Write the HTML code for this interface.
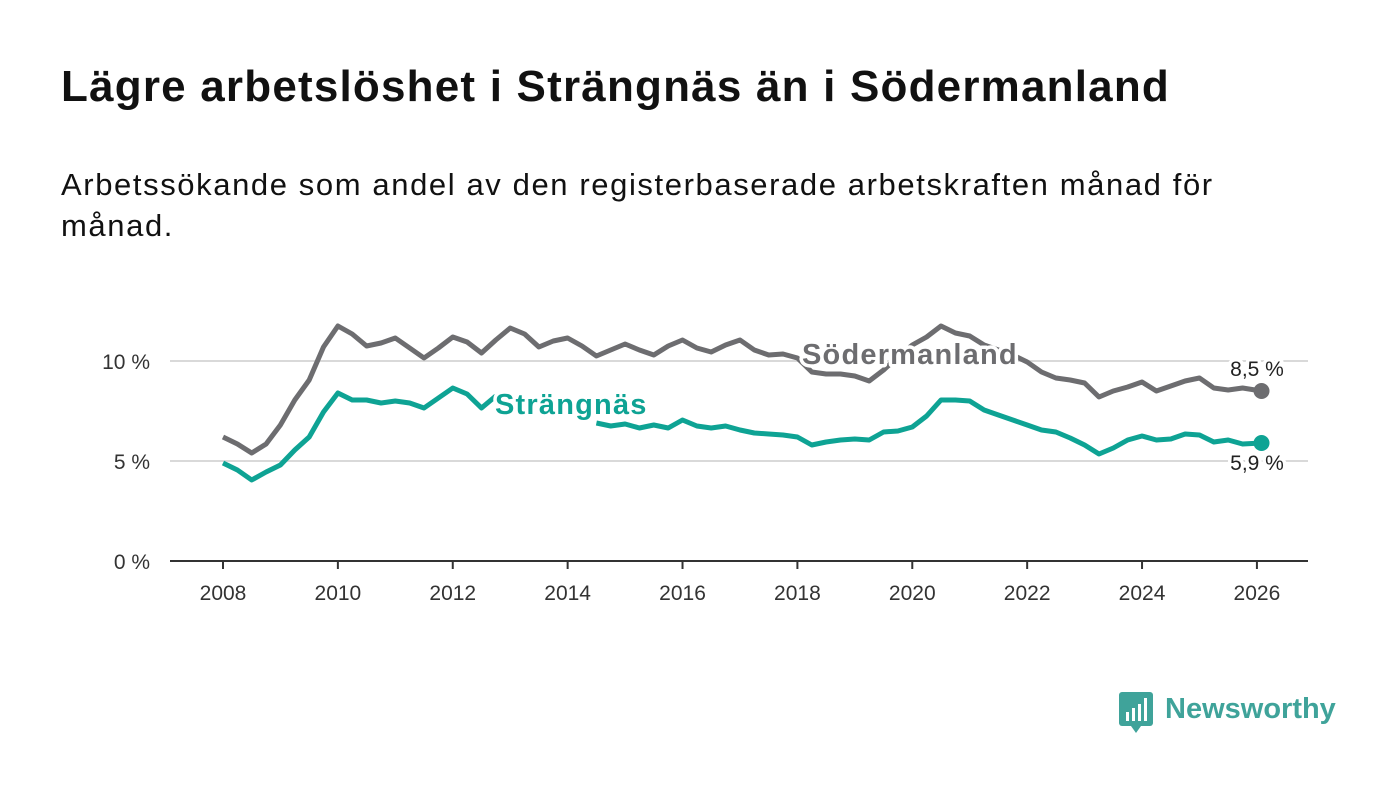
<!DOCTYPE html>
<html><head><meta charset="utf-8">
<style>
body{margin:0;width:1400px;height:794px;background:#fff;font-family:"Liberation Sans",sans-serif;overflow:hidden;position:relative}
h1{position:absolute;left:61px;top:62px;margin:0;font-size:44px;font-weight:bold;color:#111;letter-spacing:1.2px;white-space:nowrap}
p{position:absolute;left:61px;top:164px;margin:0;font-size:31px;line-height:41px;color:#111;width:1240px;letter-spacing:1.6px}
svg{position:absolute;left:0;top:0}
</style></head><body>
<h1>Lägre arbetslöshet i Strängnäs än i Södermanland</h1>
<p>Arbetssökande som andel av den registerbaserade arbetskraften månad för månad.</p>
<svg id="c" width="1400" height="794"></svg>
<div style="position:absolute;left:1119px;top:690px;display:flex;align-items:center">
<svg width="36" height="44" style="position:static"><rect x="0" y="2" width="34" height="34" rx="3" fill="#3fa39a"/><polygon points="12,36 22,36 17,43" fill="#3fa39a"/><rect x="7" y="22" width="3" height="9" fill="#fff"/><rect x="13" y="18" width="3" height="13" fill="#fff"/><rect x="19" y="14" width="3" height="17" fill="#fff"/><rect x="25" y="8" width="3" height="23" fill="#fff"/></svg>
<span style="font-size:29px;font-weight:bold;color:#3fa39a;margin-left:10px;margin-top:-6px">Newsworthy</span></div>
<script>
const years=[2008,2010,2012,2014,2016,2018,2020,2022,2024,2026];
const yTicks=[0,5,10];
const t0=2008;
const sodT=[2008,2008.25,2008.5,2008.75,2009,2009.25,2009.5,2009.75,2010,2010.25,2010.5,2010.75,2011,2011.25,2011.5,2011.75,2012,2012.25,2012.5,2012.75,2013,2013.25,2013.5,2013.75,2014,2014.25,2014.5,2014.75,2015,2015.25,2015.5,2015.75,2016,2016.25,2016.5,2016.75,2017,2017.25,2017.5,2017.75,2018,2018.25,2018.5,2018.75,2019,2019.25,2019.5,2019.75,2020,2020.25,2020.5,2020.75,2021,2021.25,2021.5,2021.75,2022,2022.25,2022.5,2022.75,2023,2023.25,2023.5,2023.75,2024,2024.25,2024.5,2024.75,2025,2025.25,2025.5,2025.75,2026.08];
const sod=[6.2,5.85,5.4,5.85,6.8,8.05,9.05,10.7,11.75,11.35,10.75,10.9,11.15,10.65,10.15,10.65,11.2,10.95,10.4,11.05,11.65,11.35,10.7,11.0,11.15,10.75,10.25,10.55,10.85,10.55,10.3,10.75,11.05,10.65,10.45,10.8,11.05,10.55,10.3,10.35,10.15,9.45,9.35,9.35,9.25,9.0,9.55,10.2,10.8,11.2,11.75,11.4,11.25,10.8,10.55,10.3,9.95,9.45,9.15,9.05,8.9,8.2,8.5,8.7,8.95,8.5,8.75,9.0,9.15,8.65,8.55,8.65,8.5];
const str=[4.9,4.55,4.05,4.45,4.8,5.55,6.2,7.45,8.4,8.05,8.05,7.9,8.0,7.9,7.65,8.15,8.65,8.35,7.65,8.25,null,null,null,null,null,null,6.9,6.75,6.85,6.65,6.8,6.65,7.05,6.75,6.65,6.75,6.55,6.4,6.35,6.3,6.2,5.8,5.95,6.05,6.1,6.05,6.45,6.5,6.7,7.25,8.05,8.05,8.0,7.55,7.3,7.05,6.8,6.55,6.45,6.15,5.8,5.35,5.65,6.05,6.25,6.05,6.1,6.35,6.3,5.95,6.05,5.85,5.9];
const X=t=>223+(t-t0)*57.44, Y=v=>561-v*20;
const s=document.getElementById('c'),NS='http://www.w3.org/2000/svg';
function mk(tag,a,txt){const e=document.createElementNS(NS,tag);for(const k in a)e.setAttribute(k,a[k]);if(txt!==undefined)e.textContent=txt;s.appendChild(e);return e;}
yTicks.forEach(v=>{
 if(v>0){const g=mk('line',{x1:170,x2:1308,y1:Y(v),y2:Y(v),stroke:'#d9d9d9','stroke-width':2});
 
 }
 const t=mk('text',{x:150,y:Y(v)+8,'text-anchor':'end','font-size':21,fill:'#333'},v+' %');
 
 
});
const ax=mk('line',{x1:170,x2:1308,y1:561,y2:561,stroke:'#333','stroke-width':2});


years.forEach(y=>{
 const tk=mk('line',{x1:X(y),x2:X(y),y1:561,y2:569,stroke:'#333','stroke-width':2});
 
 
 const t=mk('text',{x:X(y),y:600,'text-anchor':'middle','font-size':21,fill:'#333'},y);
 
 
});
function line(vals,col,name){
 let d='',pen=false;
 vals.forEach((v,i)=>{if(v===null){pen=false;return;}d+=(pen?'L':'M')+X(sodT[i]).toFixed(1)+','+Y(v).toFixed(1);pen=true;});
 const p=mk('path',{d:d,fill:'none',stroke:col,'stroke-width':5,'stroke-linejoin':'round'});
 
 
 const n=vals.length-1;
 const c=mk('circle',{cx:X(sodT[n]),cy:Y(vals[n]),r:8,fill:col});
 
 
}
line(sod,'#6d6d70','sodermanland');
line(str,'#0ea394','strangnas');
function lab(x,y,txt,col,name,size,w,anchor,ls){
 const t=mk('text',{x:x,y:y,'font-size':size,'font-weight':w,fill:col,stroke:'#fff','stroke-width':7,'paint-order':'stroke','stroke-linejoin':'round','text-anchor':anchor||'start','letter-spacing':ls||0},txt);
 
 
}
lab(802,364,'Södermanland','#6d6d70','sodermanland-label',29,'bold','start',1.2);
lab(495,414,'Strängnäs','#0ea394','strangnas-label',29,'bold','start',1.2);
lab(1257,376,'8,5 %','#222','sodermanland-value',21,'normal','middle');
lab(1257,470,'5,9 %','#222','strangnas-value',21,'normal','middle');
</script>
</body></html>
